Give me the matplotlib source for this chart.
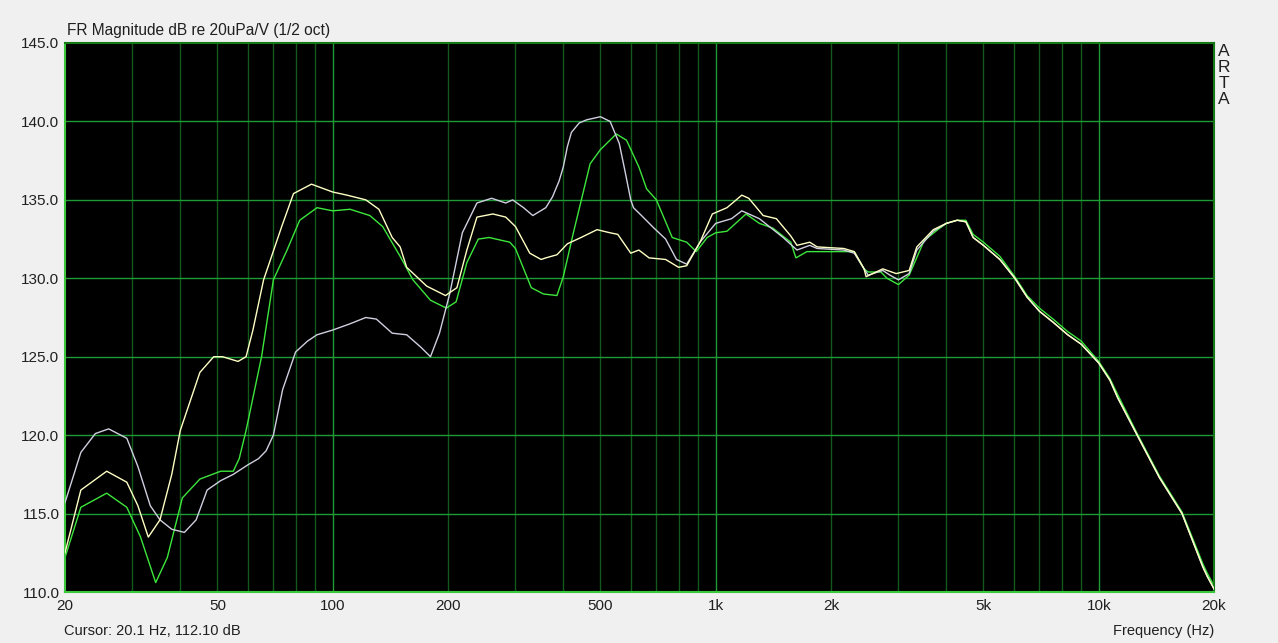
import matplotlib.pyplot as plt
from matplotlib.ticker import FixedLocator, NullFormatter

# --- data (Hz, dB) ---
grey_f = [20, 22, 24, 26, 29, 31, 33.4, 35.4, 38, 41, 44, 47, 51, 55, 60, 64, 67, 70,
          74, 80, 86, 91, 100, 111, 122, 130, 143, 156, 170, 180, 190, 202, 218, 238,
          260, 283, 295, 315, 333, 360, 375, 390, 400, 410, 420, 440, 460, 500, 530,
          560, 580, 600, 610, 640, 690, 740, 790, 840, 910, 1000, 1100, 1170, 1300,
          1500, 1630, 1760, 1840, 2160, 2300, 2440, 2500, 2730, 2850, 3000, 3200, 3350,
          3700, 4000]
grey_db = [115.7, 118.9, 120.1, 120.4, 119.8, 118.0, 115.5, 114.6, 114.0, 113.8, 114.6,
           116.5, 117.1, 117.5, 118.1, 118.5, 119.0, 120.0, 122.9, 125.3, 126.0, 126.4,
           126.7, 127.1, 127.5, 127.4, 126.5, 126.4, 125.6, 125.0, 126.5, 129.0, 132.9,
           134.8, 135.1, 134.8, 135.0, 134.5, 134.0, 134.5, 135.2, 136.2, 137.1, 138.4,
           139.3, 139.9, 140.1, 140.3, 140.0, 138.6, 136.8, 135.0, 134.5, 134.0, 133.2,
           132.5, 131.2, 130.9, 132.3, 133.5, 133.8, 134.3, 133.8, 132.6, 131.8, 132.1,
           131.9, 131.8, 131.6, 130.6, 130.2, 130.5, 130.2, 129.9, 130.3, 131.8, 133.0,
           133.5]

yellow_f = [20, 22, 25.7, 29, 31, 33, 35.4, 38, 40, 45, 48.9, 51.6, 56.6, 59.4, 61.9, 66,
            73.6, 79, 88, 100, 109, 122, 132, 143, 150, 156, 176, 197, 211, 224, 238,
            262, 283, 300, 327, 350, 360, 385, 410, 445, 490, 530, 555, 600, 630, 670,
            740, 800, 840, 910, 980, 1070, 1170, 1220, 1330, 1440, 1570, 1630, 1760,
            1840, 2160, 2300, 2440, 2470, 2730, 2960, 3200, 3350, 3700, 4000]
yellow_db = [112.5, 116.5, 117.7, 117.0, 115.5, 113.5, 114.6, 117.5, 120.3, 124.0, 125.0,
             125.0, 124.7, 125.0, 126.7, 129.9, 133.3, 135.4, 136.0, 135.5, 135.3, 135.0,
             134.4, 132.6, 132.0, 130.7, 129.5, 128.9, 129.4, 131.8, 133.9, 134.1, 133.9,
             133.3, 131.6, 131.2, 131.3, 131.5, 132.2, 132.6, 133.1, 132.9, 132.8, 131.6,
             131.8, 131.3, 131.2, 130.7, 130.8, 132.3, 134.1, 134.5, 135.3, 135.1, 134.0,
             133.8, 132.7, 132.1, 132.3, 132.0, 131.9, 131.7, 130.6, 130.1, 130.6, 130.3,
             130.5, 132.0, 133.1, 133.5]

green_f = [20, 22, 25.7, 29, 31.5, 34.5, 37, 40.5, 45, 51, 55, 57, 59.4, 65.2, 70, 76, 82,
           91, 100, 111, 125, 135, 150, 162, 180, 198, 210, 224, 240, 256, 290, 300, 330,
           355, 385, 400, 425, 450, 470, 500, 550, 585, 630, 660, 700, 740, 770, 840, 890,
           950, 1000, 1070, 1200, 1300, 1410, 1570, 1620, 1730, 1840, 2300, 2440, 2500,
           2700, 2800, 3000, 3200, 3500, 3800, 4000]
green_db = [112.2, 115.4, 116.3, 115.4, 113.5, 110.6, 112.2, 116.0, 117.2, 117.7, 117.7,
            118.5, 120.3, 125.0, 129.9, 131.8, 133.7, 134.5, 134.3, 134.4, 134.0, 133.3,
            131.4, 129.9, 128.6, 128.1, 128.5, 131.0, 132.5, 132.6, 132.3, 131.9, 129.4,
            129.0, 128.9, 130.1, 132.9, 135.4, 137.3, 138.2, 139.2, 138.8, 137.1, 135.7,
            135.0, 133.6, 132.6, 132.3, 131.7, 132.6, 132.9, 133.0, 134.1, 133.5, 133.2,
            132.3, 131.3, 131.7, 131.7, 131.7, 130.6, 130.4, 130.4, 130.0, 129.6, 130.2,
            132.4, 133.1, 133.5]

# high-frequency roll-off, where the three traces nearly coincide
tail_f = [4270, 4500, 4700, 5000, 5520, 6040, 6500, 7000, 7600, 8300, 9000, 10000,
          10700, 11200, 12600, 14400, 16500, 18700, 19200, 20000]
tail_db = [133.7, 133.6, 132.6, 132.1, 131.2, 130.0, 128.8, 127.9, 127.2, 126.4, 125.8,
           124.6, 123.5, 122.4, 120.0, 117.3, 115.0, 111.6, 111.0, 110.2]
green_tail_db = [133.7, 133.7, 132.8, 132.3, 131.4, 130.1, 128.9, 128.1, 127.4, 126.6,
                 126.0, 124.7, 123.6, 122.6, 120.1, 117.4, 115.1, 111.8, 111.2, 110.4]

xtick_vals = [20, 50, 100, 200, 500, 1000, 2000, 5000, 10000, 20000]
xtick_labels = ['20', '50', '100', '200', '500', '1k', '2k', '5k', '10k', '20k']
ytick_vals = [110, 115, 120, 125, 130, 135, 140, 145]

plt.rcParams['font.family'] = ['Liberation Sans', 'DejaVu Sans']

fig = plt.figure(figsize=(12.78, 6.43), dpi=100, facecolor='#f0f0f0')
ax = fig.add_axes([65 / 1278, 51 / 643, 1149 / 1278, 549 / 643])
ax.set_facecolor('black')

ax.set_xscale('log')
ax.set_xlim(20, 20000)
ax.set_ylim(110, 145)

# grid: decades and dB lines brighter, the rest darker
minor = [m * 10 ** d for d in range(1, 5) for m in range(2, 10) if 20 < m * 10 ** d < 20000]
for f in minor:
    ax.axvline(f, color='#115a1c', lw=1.0, zorder=1)
for f in [100, 1000, 10000]:
    ax.axvline(f, color='#1e9a36', lw=1.0, zorder=1)
for y in ytick_vals[1:-1]:
    ax.axhline(y, color='#1e9a36', lw=1.0, zorder=1)

ax.plot(grey_f + tail_f, grey_db + tail_db, color='#cfcfe0', lw=1.0, zorder=3)
ax.plot(yellow_f + tail_f, yellow_db + tail_db, color='#ffffc4', lw=1.0, zorder=4)
ax.plot(green_f + tail_f, green_db + green_tail_db, color='#3ce63c', lw=1.0, zorder=2)

ax.xaxis.set_major_locator(FixedLocator(xtick_vals))
ax.set_xticklabels(xtick_labels)
ax.xaxis.set_minor_formatter(NullFormatter())
ax.xaxis.set_minor_locator(FixedLocator([]))
ax.set_yticks(ytick_vals)
ax.set_yticklabels([f'{v:.1f}' for v in ytick_vals])
ax.tick_params(length=0, labelsize=11, colors='#202020', pad=4)
ax.tick_params(axis='x', pad=5)

for side in ['left', 'bottom']:
    ax.spines[side].set_color('#3cc83c')
    ax.spines[side].set_linewidth(1.5)
for side in ['top', 'right']:
    ax.spines[side].set_color('#157a15')
    ax.spines[side].set_linewidth(1.5)

fig.text(67 / 1278, 1 - 30 / 643, 'FR Magnitude dB re 20uPa/V (1/2 oct)',
         fontsize=11.2, color='#202020', ha='left', va='center')
fig.text(64 / 1278, 1 - 631 / 643, 'Cursor: 20.1 Hz, 112.10 dB',
         fontsize=10.5, color='#202020', ha='left', va='center')
fig.text(1214 / 1278, 1 - 631 / 643, 'Frequency (Hz)',
         fontsize=10.5, color='#202020', ha='right', va='center')
for i, ch in enumerate('ARTA'):
    fig.text(1224 / 1278, 1 - (51 + i * 16) / 643, ch,
             fontsize=12.5, color='#202020', ha='center', va='center')

fig.savefig('out.png', dpi=100, facecolor=fig.get_facecolor())
